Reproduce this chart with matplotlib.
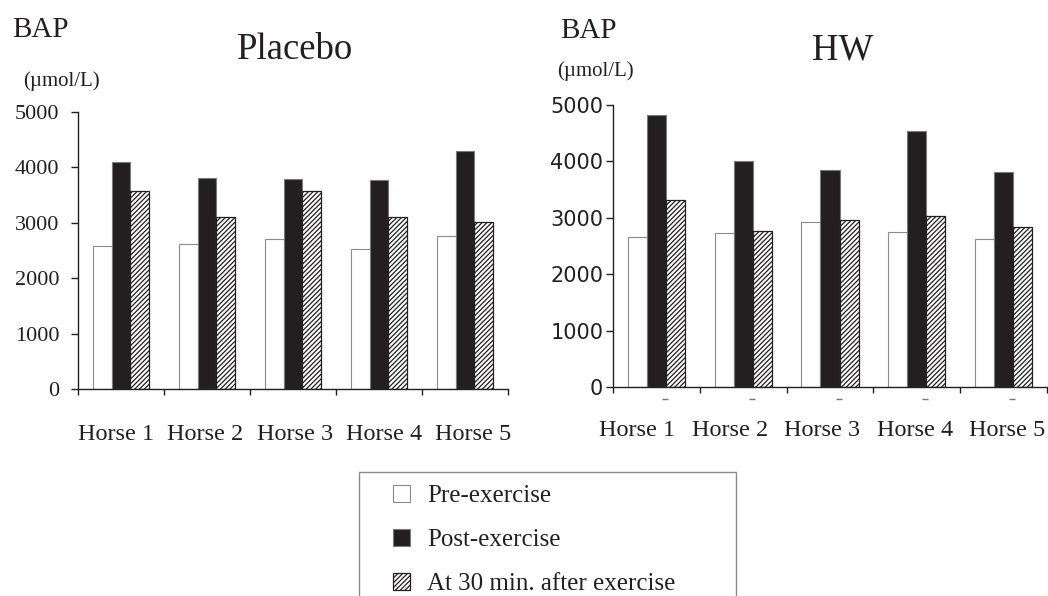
#BAP antes y despues del ejercicio, placebo vs HW

import numpy as np
import matplotlib
matplotlib.use('Agg')
import matplotlib.pyplot as plt
from matplotlib.patches import Rectangle
from matplotlib.transforms import blended_transform_factory

plt.rcParams['hatch.linewidth'] = 0.9

#datos (umol/L)
horses = ['Horse 1', 'Horse 2', 'Horse 3', 'Horse 4', 'Horse 5']
placebo_pre = [2580, 2620, 2705, 2525, 2755]
placebo_post = [4100, 3815, 3790, 3780, 4305]
placebo_30 = [3570, 3100, 3565, 3100, 3010]
hw_pre = [2655, 2725, 2920, 2745, 2620]
hw_post = [4830, 4000, 3855, 4540, 3810]
hw_30 = [3310, 2760, 2955, 3025, 2830]
series_labels = ['Pre-exercise', 'Post-exercise', 'At 30 min. after exercise']
yticks = [0, 1000, 2000, 3000, 4000, 5000]

INK = '#231f20'
SERIF = 'Liberation Serif'
W, H = 1048, 596


def px(x, y):
    #pixel -> coordenadas de figura
    return x / W, 1 - y / H


def panel(ax, pre, post, after, tick_font, tick_size, ytick_pad, xlab_pos, xlab_pad):
    x = np.arange(len(horses))
    w = 0.22
    b1 = ax.bar(x - w, pre, w, color='white', edgecolor='#8a8a8a', linewidth=0.8)
    b2 = ax.bar(x, post, w, color=INK, edgecolor='#7a7a7a', linewidth=0.8)
    b3 = ax.bar(x + w, after, w, color='white', edgecolor=INK, linewidth=0.9,
                hatch='///////')
    ax.set_xlim(-0.5, len(horses) - 0.5)
    ax.set_ylim(0, 5000)
    ax.set_yticks(yticks)
    ax.set_yticklabels([str(v) for v in yticks], family=tick_font,
                       fontsize=tick_size, color=INK)
    ax.tick_params(axis='y', length=5, width=1, color=INK, pad=ytick_pad)
    #separadores entre caballos
    ax.set_xticks(np.arange(len(horses) + 1) - 0.5, minor=True)
    ax.tick_params(axis='x', which='minor', length=4.5, width=1, color=INK)
    ax.set_xticks(xlab_pos)
    ax.set_xticklabels(horses, family=SERIF, fontsize=17.5, color=INK)
    ax.tick_params(axis='x', which='major', length=0, pad=xlab_pad)
    for s in ['top', 'right']:
        ax.spines[s].set_visible(False)
    for s in ['left', 'bottom']:
        ax.spines[s].set_color(INK)
        ax.spines[s].set_linewidth(1)
    return b1, b2, b3


fig = plt.figure(figsize=(W / 100, H / 100), dpi=100)

ax1 = fig.add_axes([78 / W, 1 - 389 / H, 430 / W, 277 / H])
handles = panel(ax1, placebo_pre, placebo_post, placebo_30, SERIF, 16, 8.5,
                np.arange(5) * 1.04 - 0.06, 25)

ax2 = fig.add_axes([613 / W, 1 - 387 / H, 434 / W, 282 / H])
panel(ax2, hw_pre, hw_post, hw_30, 'DejaVu Sans', 15, 2,
      np.arange(5) * 1.065 - 0.22, 24)

#rayitas debajo del eje en el panel HW
tr = blended_transform_factory(ax2.transData, ax2.transAxes)
ax2.plot(np.arange(5) + 0.1, [-0.043] * 5, ls='none', marker='_', ms=4,
         color='#777777', transform=tr, clip_on=False)

#titulos y unidades
fig.text(*px(295, 59), 'Placebo', family=SERIF, fontsize=26.5, color=INK,
         ha='center', va='baseline')
fig.text(*px(843, 59), 'HW', family=SERIF, fontsize=26.5, color=INK,
         ha='center', va='baseline')
fig.text(*px(12, 37), 'BAP', family=SERIF, fontsize=21, color=INK, va='baseline')
fig.text(*px(560, 38), 'BAP', family=SERIF, fontsize=21, color=INK, va='baseline')
fig.text(*px(23, 86), '(\u00b5mol/L)', family=SERIF, fontsize=15, color=INK,
         va='baseline')
fig.text(*px(557, 76), '(\u00b5mol/L)', family=SERIF, fontsize=15, color=INK,
         va='baseline')

#leyenda: marco aparte, cortado por el borde inferior
fig.patches.append(Rectangle(px(359, 610), 377 / W, 138 / H, transform=fig.transFigure,
                             facecolor='none', edgecolor='#8a8a8a', linewidth=1))
fig.legend(handles, series_labels, loc='upper left', bbox_to_anchor=px(393, 485),
           frameon=False, borderpad=0, borderaxespad=0,
           prop={'family': SERIF, 'size': 18},
           handlelength=0.68, handleheight=0.68, handletextpad=0.68,
           labelspacing=0.86, labelcolor=INK)

fig.savefig('out.png', dpi=100)
